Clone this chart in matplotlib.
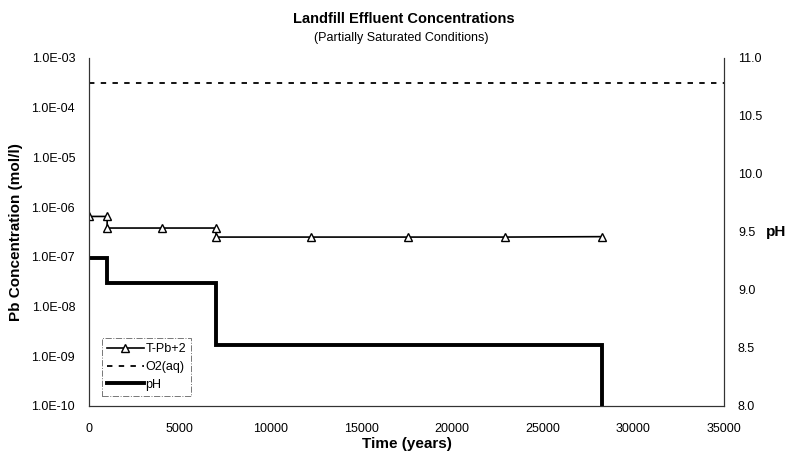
import matplotlib.pyplot as plt
from matplotlib.ticker import FuncFormatter, FixedLocator
from matplotlib.lines import Line2D

plt.rcParams['font.family'] = ['Liberation Sans', 'DejaVu Sans']

# T-Pb+2 concentration (mol/l)
tpb_time = [0, 1000, 1000, 4000, 7000, 7000, 12250, 17600, 22950, 28300]
tpb_conc = [6.5e-7, 6.5e-7, 3.8e-7, 3.8e-7, 3.8e-7, 2.5e-7, 2.5e-7, 2.5e-7, 2.5e-7, 2.55e-7]

# O2(aq) concentration (mol/l)
o2_time = [0, 35000]
o2_conc = [3.2e-4, 3.2e-4]

# pH (right axis), stepwise
ph_time = [0, 1000, 1000, 7000, 7000, 28300, 28300]
ph_vals = [9.28, 9.28, 9.06, 9.06, 8.53, 8.53, 7.9]

x_ticks = [0, 5000, 10000, 15000, 20000, 25000, 30000, 35000]
y_ticks = [1e-10, 1e-9, 1e-8, 1e-7, 1e-6, 1e-5, 1e-4, 1e-3]
ph_ticks = [8.0, 8.5, 9.0, 9.5, 10.0, 10.5, 11.0]

fig = plt.figure(figsize=(7.89, 4.51), dpi=100)
ax = fig.add_axes([89/789, 45/451, 635/789, 348/451])
ax2 = ax.twinx()

ax.plot(tpb_time, tpb_conc, color='black', lw=1.2, marker='^', ms=6,
        mfc='white', mec='black', mew=1.0, zorder=3)
ax.plot(o2_time, o2_conc, color='black', lw=1.3, ls=(0, (3, 3.5)))
ax2.plot(ph_time, ph_vals, color='black', lw=2.8, solid_joinstyle='miter')

ax.set_yscale('log')
ax.set_ylim(1e-10, 1e-3)
ax.set_xlim(0, 35000)
ax2.set_ylim(8.0, 11.0)

ax.xaxis.set_major_locator(FixedLocator(x_ticks))
ax.yaxis.set_major_locator(FixedLocator(y_ticks))
ax.yaxis.set_minor_locator(FixedLocator([]))
ax.yaxis.set_major_formatter(FuncFormatter(lambda v, p: '%.1E' % v))
ax2.yaxis.set_major_locator(FixedLocator(ph_ticks))
ax2.yaxis.set_major_formatter(FuncFormatter(lambda v, p: '%.1f' % v))

ax.tick_params(axis='both', length=0, labelsize=9, pad=10)
ax.tick_params(axis='x', pad=12)
ax2.tick_params(axis='y', length=0, labelsize=9, pad=10)

for a in (ax, ax2):
    a.spines['top'].set_visible(False)
    for s in ('left', 'right', 'bottom'):
        a.spines[s].set_linewidth(0.8)
        a.spines[s].set_color('#333333')

ax.set_xlabel('Time (years)', fontsize=11, fontweight='bold', labelpad=2)
ax.set_ylabel('Pb Concentration (mol/l)', fontsize=11, fontweight='bold', labelpad=6)
ax2.set_ylabel('pH', fontsize=11, fontweight='bold', rotation=0, labelpad=10, va='center')

fig.text(0.512, 0.958, 'Landfill Effluent Concentrations', ha='center', va='center',
         fontsize=10.5, fontweight='bold')
fig.text(0.508, 0.915, '(Partially Saturated Conditions)', ha='center', va='center',
         fontsize=9)

handles = [
    Line2D([], [], color='black', lw=1.2, marker='^', ms=6, mfc='white', mec='black'),
    Line2D([], [], color='black', lw=1.3, ls=(0, (3, 3.5))),
    Line2D([], [], color='black', lw=2.8),
]
leg = ax2.legend(handles, ['T-Pb+2', 'O2(aq)', 'pH'], loc='lower left',
                 bbox_to_anchor=(0.02, 0.03), fontsize=9, frameon=True,
                 fancybox=False, handlelength=3.0, handletextpad=0.1,
                 borderpad=0.4, labelspacing=0.45, borderaxespad=0)
leg.get_frame().set_edgecolor('#555555')
leg.get_frame().set_linestyle('-.')
leg.get_frame().set_linewidth(0.7)

fig.savefig('out.png', dpi=100)
